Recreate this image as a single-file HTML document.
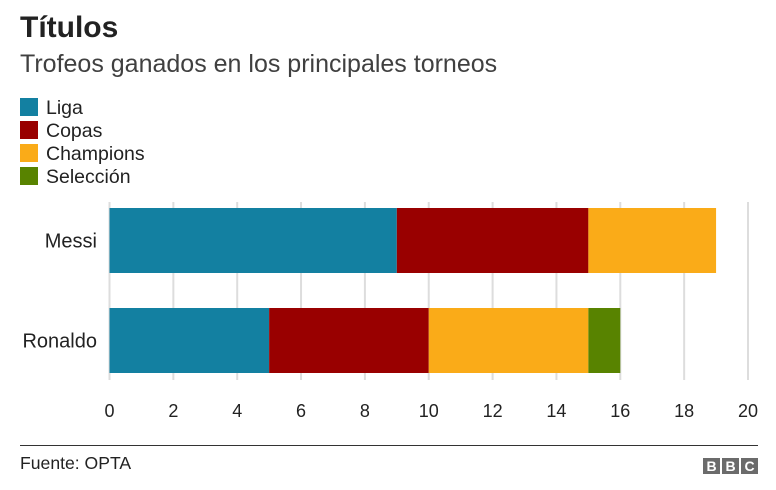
<!DOCTYPE html>
<html><head><meta charset="utf-8"><style>
body{margin:0;background:#fff;font-family:"Liberation Sans",Arial,sans-serif;}
svg{display:block}
</style></head><body>
<svg id="c" width="776" height="490">
<text x="20" y="37" font-size="30" font-weight="bold" fill="#222">Títulos</text>
<text x="20" y="72" font-size="25" fill="#404040">Trofeos ganados en los principales torneos</text>
<g id="legend"></g>
<g id="grid"></g>
<g id="bars"></g>
<g id="xaxis"></g>
<g id="yaxis"></g>
<line x1="20" y1="445.5" x2="758" y2="445.5" stroke="#333" stroke-width="1"/>
<text x="20" y="469" font-size="17.6" fill="#222">Fuente: OPTA</text>
<g>
<rect x="703" y="458" width="17" height="16" fill="#6b6b6b"/><rect x="722" y="458" width="17" height="16" fill="#6b6b6b"/><rect x="741" y="458" width="17" height="16" fill="#6b6b6b"/>
<text x="711.5" y="471" font-size="14" font-weight="bold" fill="#fff" text-anchor="middle">B</text>
<text x="730.5" y="471" font-size="14" font-weight="bold" fill="#fff" text-anchor="middle">B</text>
<text x="749.5" y="471" font-size="14" font-weight="bold" fill="#fff" text-anchor="middle">C</text>
</g>
</svg>
<script>
const categories=["Messi","Ronaldo"];
const seriesNames=["Liga","Copas","Champions","Selección"];
const liga=[9,5];
const copas=[6,5];
const champions=[4,5];
const seleccion=[0,1];
const ticks=[0,2,4,6,8,10,12,14,16,18,20];
const colors=["#1380A1","#990000","#FAAB18","#588300"];
const NS="http://www.w3.org/2000/svg";
const x0=109.5,x1=748,xmax=20;
const x=v=>x0+v*(x1-x0)/xmax;
const rowY=i=>208+i*100, bh=65;
function mk(t,a,p){const e=document.createElementNS(NS,t);for(const k in a)e.setAttribute(k,a[k]);p.appendChild(e);return e;}
const L=document.getElementById('legend');
seriesNames.forEach((n,i)=>{
 const g=mk('g',{},L);
 
 
 mk('rect',{x:20,y:98+i*23,width:18,height:18,fill:colors[i]},g);
 const t=mk('text',{x:46,y:114+i*23,'font-size':19.5,fill:'#222'},g);t.textContent=n;
});
const G=document.getElementById('grid'),X=document.getElementById('xaxis');
ticks.forEach(v=>{
 const l=mk('line',{x1:x(v),x2:x(v),y1:202,y2:380,stroke:'#ddd','stroke-width':2},G);
 
 
 const t=mk('text',{x:x(v),y:417,'font-size':18,'text-anchor':'middle',fill:'#222'},X);
 
 
 t.textContent=v;
});
const B=document.getElementById('bars'),Y=document.getElementById('yaxis');
const series=[liga,copas,champions,seleccion];
categories.forEach((c,i)=>{
 let acc=0;
 series.forEach((s,j)=>{
  if(s[i]>0){
   const r=mk('rect',{x:x(acc),y:rowY(i),width:x(acc+s[i])-x(acc),height:bh,fill:colors[j]},B);
   
   
  }
  acc+=s[i];
 });
 const t=mk('text',{x:97,y:rowY(i)+bh/2+7,'font-size':20,'text-anchor':'end',fill:'#222'},Y);
 
 
 t.textContent=c;
});
</script>
</body></html>
